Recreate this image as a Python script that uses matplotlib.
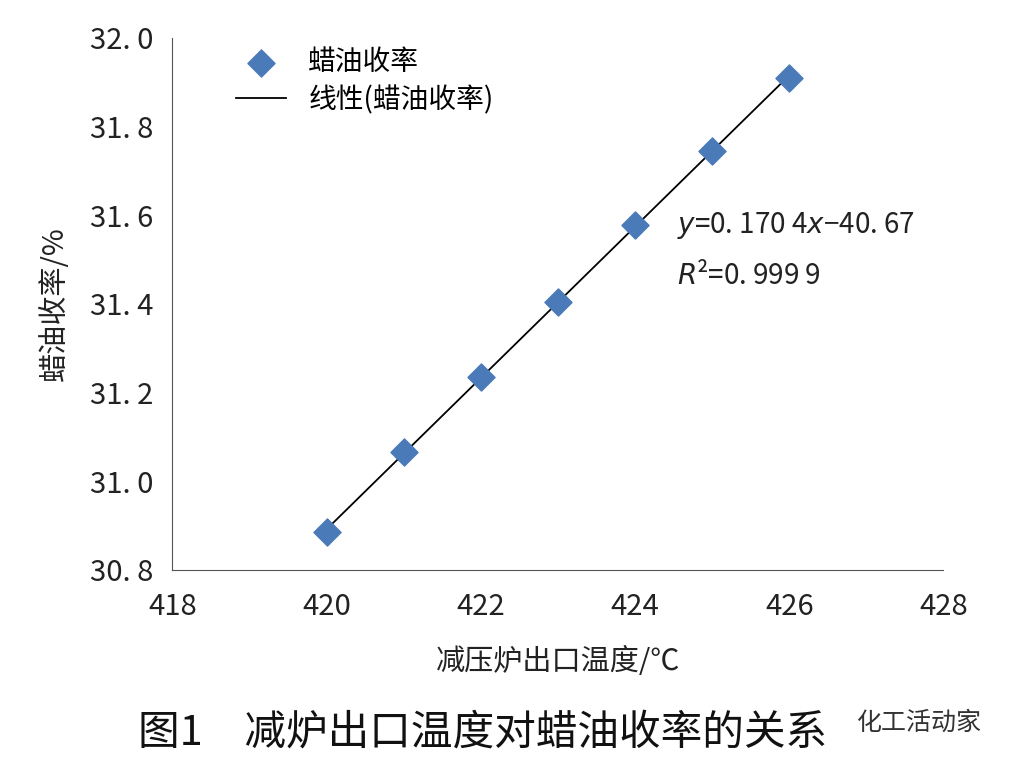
import numpy as np
import matplotlib
matplotlib.use("Agg")
import matplotlib.pyplot as plt

plt.rcParams['font.family'] = ['Noto Sans CJK SC', 'DejaVu Sans']

temps = [420, 421, 422, 423, 424, 425, 426]
yields = [30.885, 31.065, 31.235, 31.405, 31.578, 31.745, 31.91]
x_ticks = [418, 420, 422, 424, 426, 428]
y_ticks = [30.8, 31.0, 31.2, 31.4, 31.6, 31.8, 32.0]
y_tick_labels = ["30. 8", "31. 0", "31. 2", "31. 4", "31. 6", "31. 8", "32. 0"]

fig = plt.figure(figsize=(10.2, 7.72), dpi=100)
ax = fig.add_axes([0.169, 0.262, 0.756, 0.689])

blue = "#4a7ab8"
ax.scatter(temps, yields, marker="D", s=190, color=blue, zorder=3, label="蜡油收率")
k, b = np.polyfit(temps, yields, 1)
xs = np.array([temps[0], temps[-1]])
ax.plot(xs, k * xs + b, color="black", lw=1.3, label="线性(蜡油收率)")

ax.set_xlim(418, 428)
ax.set_ylim(30.8, 32.0)
ax.set_xticks(x_ticks)
ax.set_yticks(y_ticks)
ax.set_yticklabels(y_tick_labels)
ax.tick_params(axis="both", labelsize=21, colors="#222222", length=0)
ax.tick_params(axis="x", pad=16)
ax.tick_params(axis="y", pad=14)
for s in ["top", "right"]:
    ax.spines[s].set_visible(False)
for s in ["left", "bottom"]:
    ax.spines[s].set_color("#555555")

ax.set_xlabel("减压炉出口温度/℃", fontsize=21, labelpad=18, color="#222222")
ax.set_ylabel("蜡油收率/%", fontsize=21, labelpad=14, color="#222222")

ax.text(424.55, 31.56, "$y$=0. 170 4$x$−40. 67", fontsize=20, color="#222222")
ax.text(424.55, 31.445, "$R$²=0. 999 9", fontsize=20, color="#222222")

ax.legend(loc="upper left", bbox_to_anchor=(0.05, 1.03), fontsize=20, frameon=False,
          handlelength=1.8, labelspacing=0.3)

fig.text(0.135, 0.035, "图1　减炉出口温度对蜡油收率的关系", fontsize=30, color="#111111")
fig.text(0.84, 0.055, "化工活动家", fontsize=18, color="#333333")

fig.savefig("out.png", dpi=100)
